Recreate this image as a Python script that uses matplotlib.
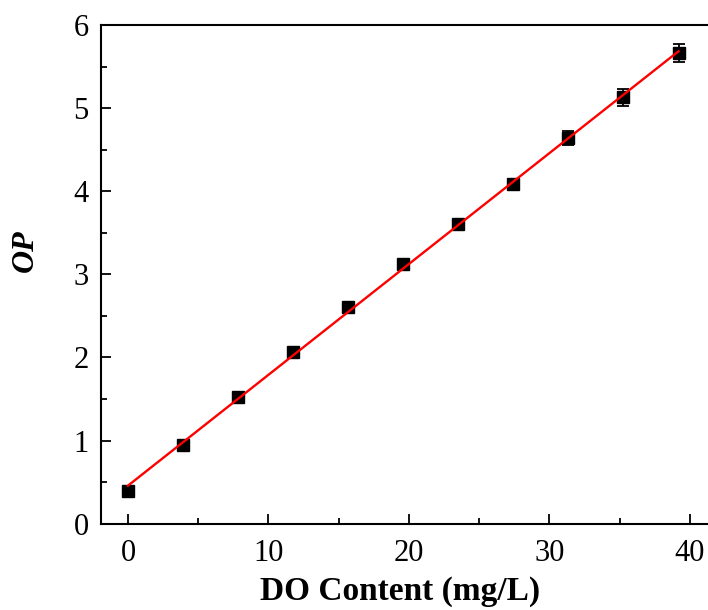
import numpy as np
import matplotlib
matplotlib.use("Agg")
import matplotlib.pyplot as plt
from matplotlib.ticker import MultipleLocator

# Data
do_content = [0.0, 3.92, 7.84, 11.76, 15.68, 19.6, 23.52, 27.44, 31.36, 35.28, 39.2]
op_values = [0.39, 0.95, 1.52, 2.06, 2.61, 3.12, 3.61, 4.09, 4.64, 5.13, 5.66]
op_errors = [0.03, 0.03, 0.03, 0.03, 0.03, 0.04, 0.04, 0.05, 0.08, 0.10, 0.11]
x_ticks = [0, 10, 20, 30, 40]
y_ticks = [0, 1, 2, 3, 4, 5, 6]

plt.rcParams['font.family'] = ['Liberation Serif', 'DejaVu Serif']

fig = plt.figure(figsize=(7.08, 6.10), dpi=100)
ax = fig.add_axes([0.1427, 0.1415, 1.0 - 0.1427, 0.8175])

# Linear fit
coef = np.polyfit(do_content, op_values, 1)
xs = np.array([min(do_content), max(do_content)])
ax.plot(xs, np.polyval(coef, xs), color='#ff0000', lw=1.7, zorder=3)

ax.errorbar(do_content, op_values, yerr=op_errors, fmt='s', color='black',
            markersize=8.5, capsize=4, elinewidth=1.3, capthick=1.3, zorder=2)

ax.set_xlim(-1.92, 41.3)
ax.set_ylim(0, 6)
ax.set_xticks(x_ticks)
ax.set_yticks(y_ticks)
ax.xaxis.set_minor_locator(MultipleLocator(5))
ax.yaxis.set_minor_locator(MultipleLocator(0.5))

ax.tick_params(which='major', direction='in', length=7, width=1.3,
               labelsize=22, pad=9)
ax.tick_params(axis='x', which='major', pad=11)
ax.tick_params(which='minor', direction='in', length=4, width=1.3)
ax.tick_params(axis='y', which='both', right=False)
ax.tick_params(axis='x', which='both', top=False)

for s in ['left', 'bottom', 'top']:
    ax.spines[s].set_linewidth(1.5)
ax.spines['right'].set_visible(False)

ax.set_xlabel('DO Content (mg/L)', fontsize=24, fontweight='bold')
ax.xaxis.set_label_coords(0.5 - 4 / 607, -0.168)
ax.xaxis.label.set_va('bottom')
ax.set_ylabel('OP', fontsize=23, fontweight='bold', fontstyle='italic')
ax.yaxis.set_label_coords(-0.124, 0.547)
ax.yaxis.label.set_va('center')

fig.savefig('out.png', dpi=100)
